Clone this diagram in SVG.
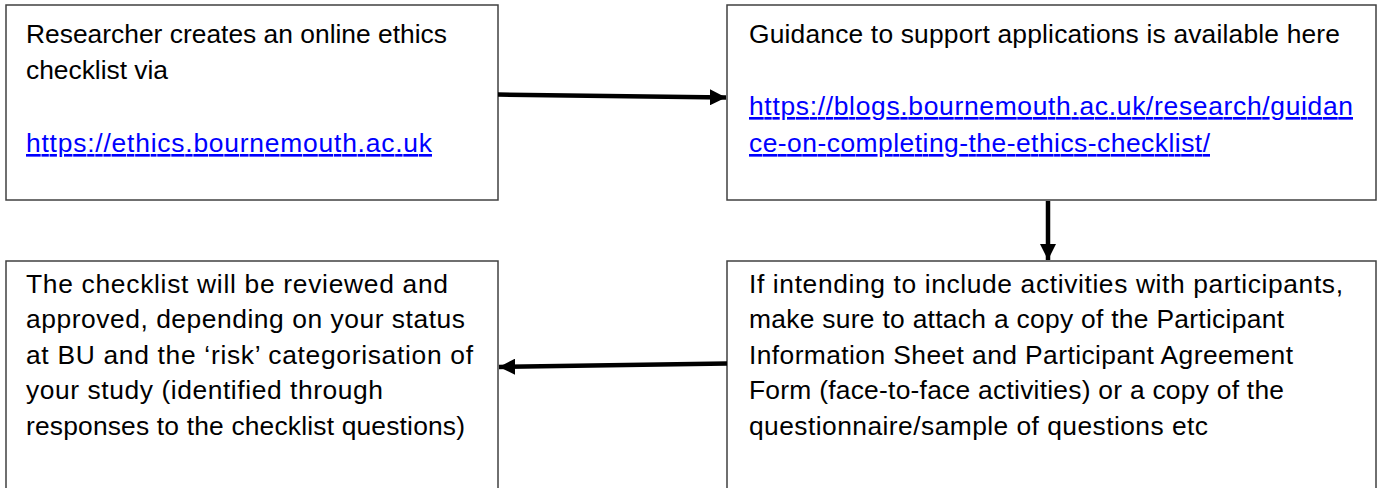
<svg xmlns="http://www.w3.org/2000/svg" width="1379" height="488" viewBox="0 0 1379 488">
<style>
.box{fill:#fff;stroke:#404040;stroke-width:1.5}
.t{font-family:"Liberation Sans",Arial,sans-serif;font-size:26.4px;fill:#000}
.lnk{fill:#0000ff;text-decoration:underline}
.conn{stroke:#000;stroke-width:4.5;fill:none}
</style>
<defs>
<marker id="ah" viewBox="0 0 10 10" refX="10" refY="5" markerWidth="3.6" markerHeight="3.6" markerUnits="strokeWidth" orient="auto">
<path d="M0,0 L10,5 L0,10 z" fill="#000"/>
</marker>
</defs>
<rect width="1379" height="488" fill="#fff"/>
<g id="n1">
<rect class="box" x="6" y="5" width="492" height="195"/>
<text class="t" x="26" y="43" textLength="421" lengthAdjust="spacing">Researcher creates an online ethics</text>
<text class="t" x="26" y="79" textLength="142" lengthAdjust="spacing">checklist via</text>
<text class="t lnk" x="26" y="152" textLength="406" lengthAdjust="spacing">https://ethics.bournemouth.ac.uk</text>
</g>
<g id="n2">
<rect class="box" x="727" y="5" width="649" height="195"/>
<text class="t" x="749" y="43" textLength="591" lengthAdjust="spacing">Guidance to support applications is available here</text>
<text class="t lnk" x="749" y="115" textLength="604" lengthAdjust="spacing">https://blogs.bournemouth.ac.uk/research/guidan</text>
<text class="t lnk" x="749" y="152" textLength="461" lengthAdjust="spacing">ce-on-completing-the-ethics-checklist/</text>
</g>
<g id="n3">
<rect class="box" x="6" y="261" width="492" height="240"/>
<text class="t" x="26" y="293" textLength="422" lengthAdjust="spacing">The checklist will be reviewed and</text>
<text class="t" x="26" y="328" textLength="439" lengthAdjust="spacing">approved, depending on your status</text>
<text class="t" x="26" y="364" textLength="447" lengthAdjust="spacing">at BU and the ‘risk’ categorisation of</text>
<text class="t" x="26" y="399" textLength="357" lengthAdjust="spacing">your study (identified through</text>
<text class="t" x="26" y="435" textLength="439" lengthAdjust="spacing">responses to the checklist questions)</text>
</g>
<g id="n4">
<rect class="box" x="727" y="261" width="649" height="240"/>
<text class="t" x="749" y="293" textLength="594" lengthAdjust="spacing">If intending to include activities with participants,</text>
<text class="t" x="749" y="328" textLength="535" lengthAdjust="spacing">make sure to attach a copy of the Participant</text>
<text class="t" x="749" y="364" textLength="544" lengthAdjust="spacing">Information Sheet and Participant Agreement</text>
<text class="t" x="749" y="399" textLength="535" lengthAdjust="spacing">Form (face-to-face activities) or a copy of the</text>
<text class="t" x="749" y="435" textLength="459" lengthAdjust="spacing">questionnaire/sample of questions etc</text>
</g>
<g id="connectors">
<line class="conn" x1="498" y1="94.5" x2="726" y2="97.5" marker-end="url(#ah)"/>
<line class="conn" x1="1048" y1="201" x2="1048" y2="260" marker-end="url(#ah)"/>
<line class="conn" x1="727" y1="363.5" x2="499" y2="367" marker-end="url(#ah)"/>
</g>
</svg>
